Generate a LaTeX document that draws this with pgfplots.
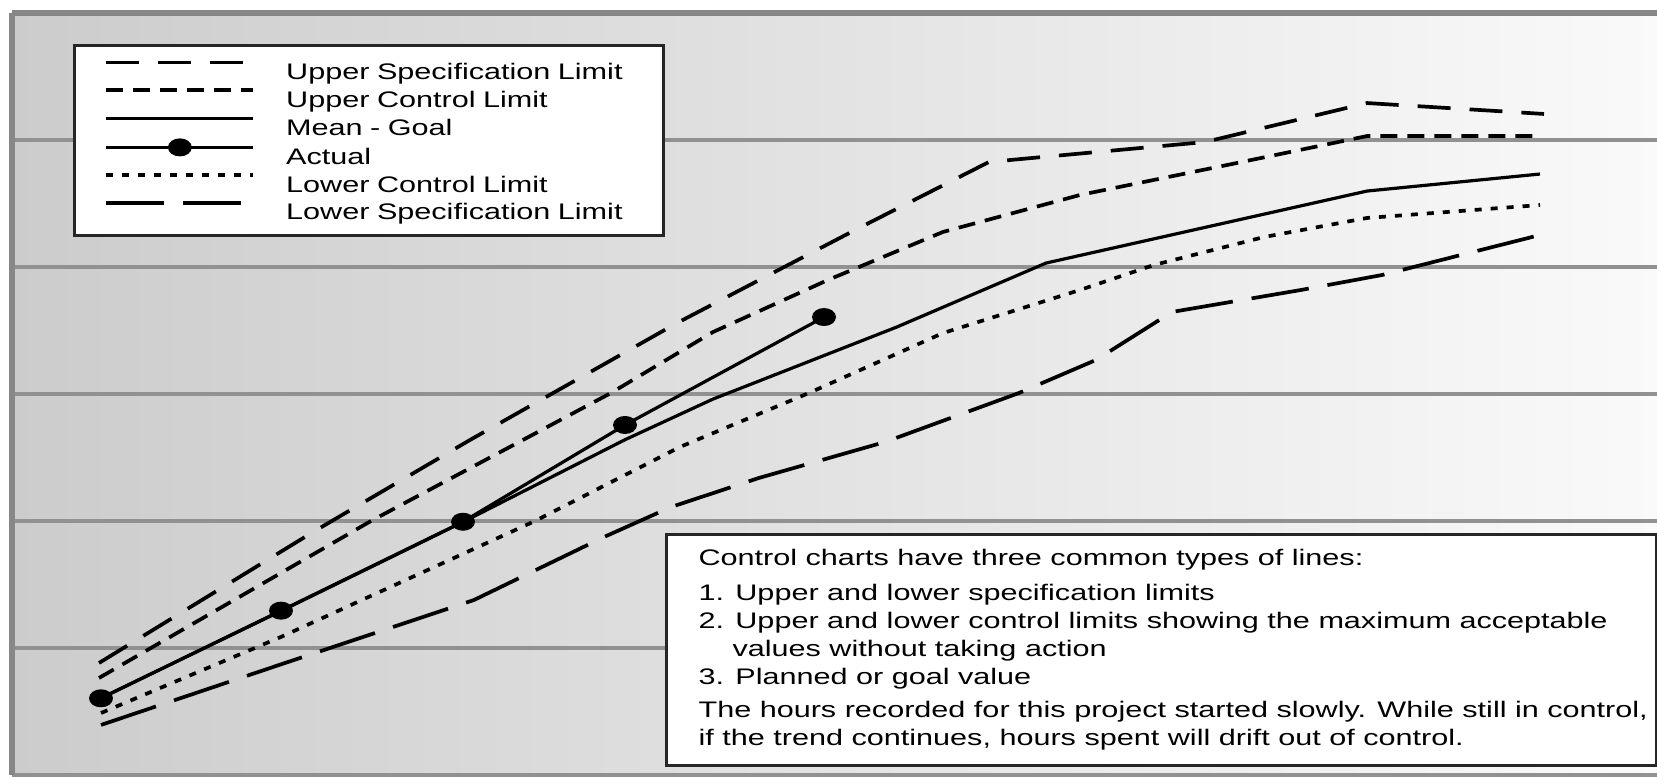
\documentclass[border=0pt]{standalone}
\usepackage{fontspec}
\setmainfont{Liberation Sans}
\newfontfamily\lgfont[FakeStretch=1.36]{Liberation Sans}
\usepackage{pgfplots}
\pgfplotsset{compat=1.18}
\begin{document}
\begin{tikzpicture}
\useasboundingbox (0,0) rectangle (165.7mm,77.7mm);
\begin{axis}[
  at={(1.2mm,0.2mm)}, anchor=south west,
  scale only axis, width=164.5mm, height=76.2mm,
  xmin=12, xmax=1657, ymin=0, ymax=6,
  axis x line=none,
  axis y line*=left,
  y axis line style={-, line width=0.55mm, draw=black!47},
  xtick=\empty, ytick={0,1,2,3,4,5}, yticklabels={}, major tick length=0pt,
  extra y ticks={6}, extra y tick labels={},
  extra y tick style={grid style={line width=0.55mm, draw=black!47}},
  ymajorgrids, grid style={line width=0.4mm, draw=black!43},
  axis background/.style={left color=black!20, right color=black!2},
  legend cell align=left,
  legend image code/.code={\draw[mark repeat=2,mark phase=2,#1] plot coordinates {(0mm,0.8mm) (7.35mm,0.8mm) (14.7mm,0.8mm)};},
  legend style={at={(0.0371,0.9593)}, anchor=north west,
    draw=black!85, line width=0.3mm, fill=white,
    inner xsep=3mm, inner ysep=1.11mm, row sep=0pt,
    font=\lgfont\fontsize{6.4}{7}\selectfont,
    nodes={inner sep=0pt, text height=2.29mm, text depth=0.49mm, text width=34.7mm, align=left},
    /tikz/every odd column/.append style={column sep=3.1mm}},
]
% Upper Specification Limit
\addplot[black, line width=0.37mm, dash pattern=on 3.3mm off 1.9mm] table {
x y
99 0.882
313 1.913
470 2.638
677 3.559
855 4.291
989 4.827
1205 4.984
1367 5.291
1544 5.205
};
\addlegendentry{Upper Specification Limit}
% Upper Control Limit
\addplot[black, line width=0.37mm, dash pattern=on 1.7mm off 1.0mm] table {
x y
99 0.764
371 2.000
611 3.008
713 3.488
828 3.898
943 4.276
1080 4.567
1227 4.803
1367 5.031
1540 5.031
};
\addlegendentry{Upper Control Limit}
% Mean - Goal
\addplot[black, line width=0.32mm] table {
x y
101 0.606
281 1.291
463 1.992
625 2.640
713 2.960
897 3.528
1046 4.031
1367 4.598
1540 4.732
};
\addlegendentry{Mean - Goal}
% Actual
\addplot[black, line width=0.32mm, mark=*, mark size=2.1pt, mark options={solid, fill=black, xscale=1.4}] table {
x y
101 0.604
281 1.294
463 1.994
625 2.756
824 3.606
};
\addlegendentry{Actual}
% Lower Control Limit
\addplot[black, line width=0.37mm, dash pattern=on 0.7mm off 0.9mm] table {
x y
101 0.488
281 1.087
535 2.000
680 2.583
809 3.008
943 3.480
1080 3.819
1154 4.016
1264 4.236
1367 4.386
1540 4.488
};
\addlegendentry{Lower Control Limit}
% Lower Specification Limit
\addplot[black, line width=0.37mm, dash pattern=on 5.8mm off 1.9mm] table {
x y
101 0.394
279 0.866
474 1.378
604 1.874
671 2.110
759 2.339
885 2.622
1019 3.008
1096 3.268
1172 3.646
1301 3.819
1382 3.937
1540 4.252
};
\addlegendentry{Lower Specification Limit}
\node[draw=black!85, line width=0.3mm, fill=white, anchor=north west, inner sep=0pt] at (rel axis cs:0.397,0.3176) {%
\begin{minipage}[c][23.1mm][c]{99mm}%
\lgfont\fontsize{6.4}{7.97}\selectfont\setlength{\parindent}{0pt}\leftskip=3.2mm
Control charts have three common types of lines:\\[0.7mm]
1. Upper and lower specification limits\\
2. Upper and lower control limits showing the maximum acceptable\\
\hspace*{3.4mm}values without taking action\\
3. Planned or goal value\\[0.5mm]
The hours recorded for this project started slowly. While still in control,\\
if the trend continues, hours spent will drift out of control.\par
\end{minipage}};
\end{axis}
\end{tikzpicture}
\end{document}
